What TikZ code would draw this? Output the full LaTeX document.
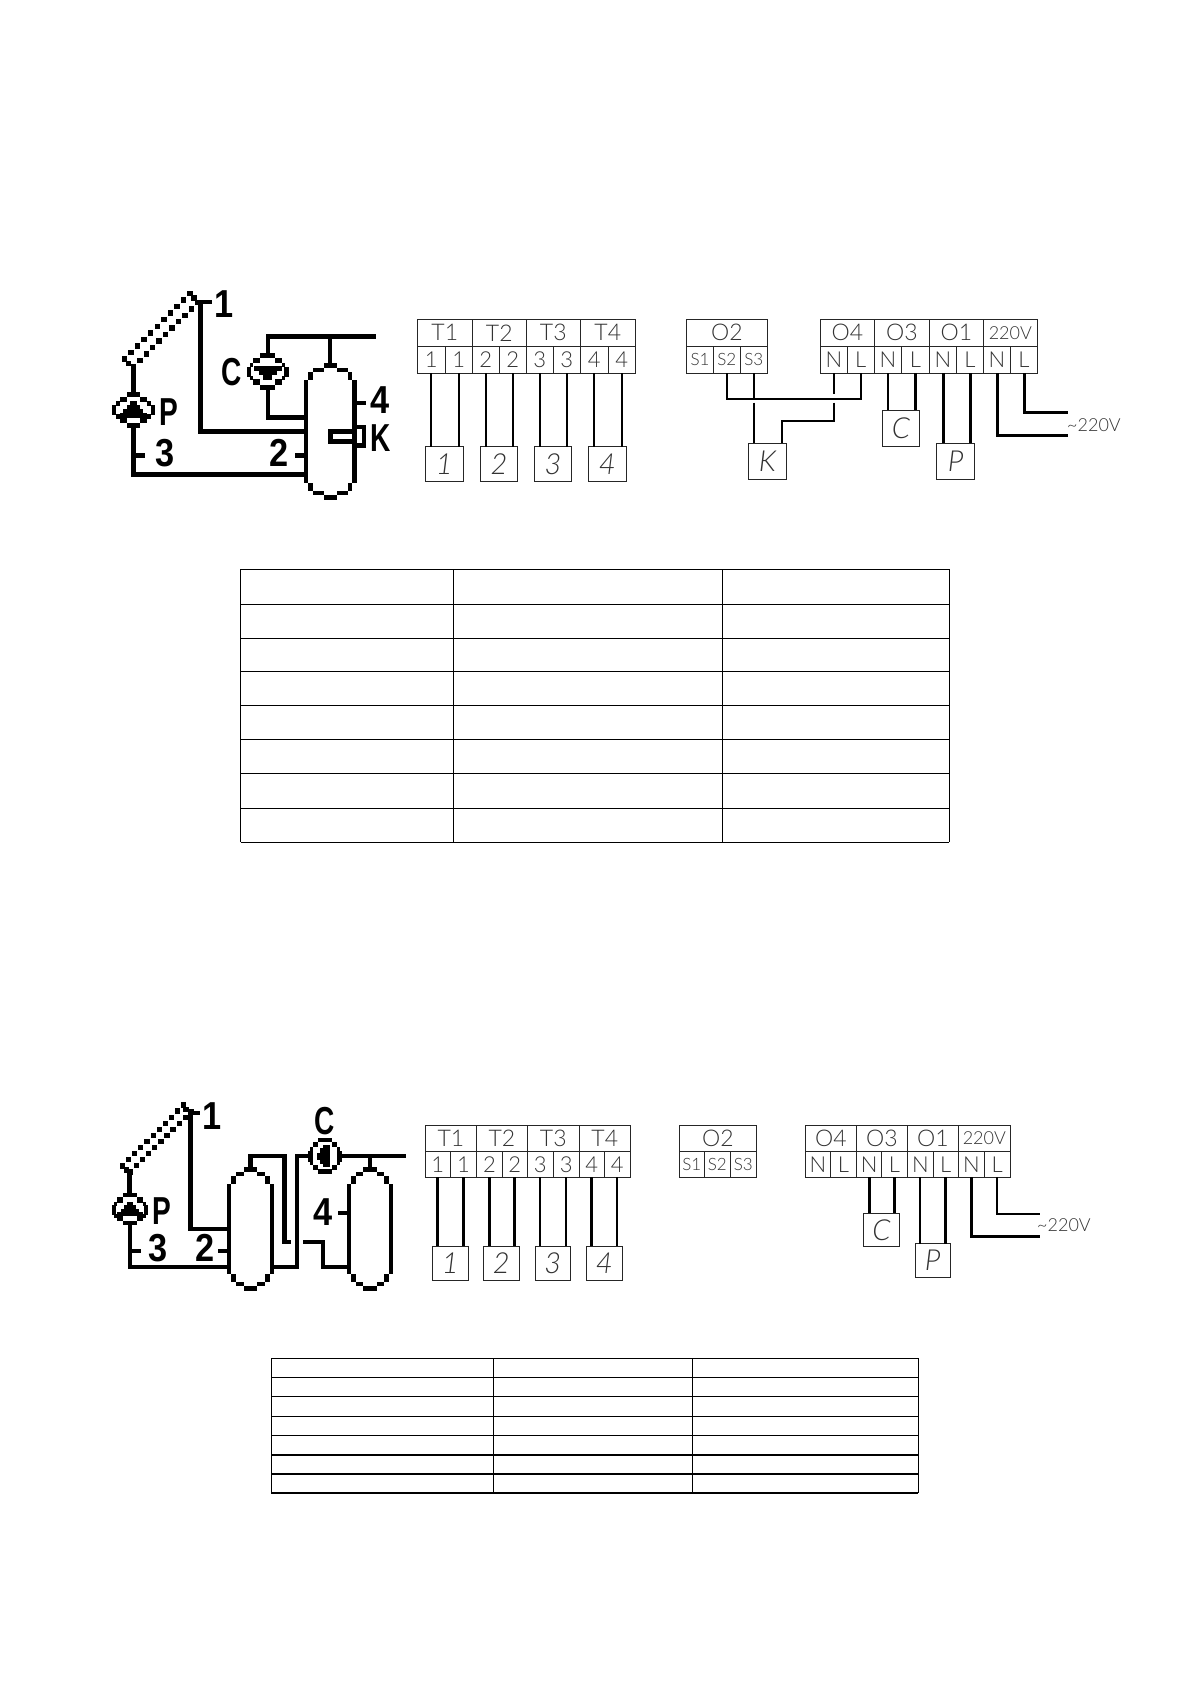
\documentclass[tikz,border=0pt]{standalone}
\usepackage{fontspec}
\setmainfont{Liberation Sans}
\newfontfamily\thinf[ItalicFont={Lato Light Italic}]{Lato Light}
\newfontfamily\pixf[FakeStretch=0.72]{Liberation Sans Bold}
\newfontfamily\pixdf[FakeStretch=0.88]{Liberation Sans Bold}
\tikzset{
  bx/.style={draw=black!85,line width=0.9pt,inner sep=0pt,outer sep=0pt,font=\thinf\fontsize{23}{23}\selectfont,text=black!80},
  lower/.style={font=\thinf\fontsize{22}{22}\selectfont},
  small/.style={font=\thinf\fontsize{17}{17}\selectfont},
  volt/.style={font=\thinf\fontsize{18}{18}\selectfont},
  ital/.style={font=\thinf\itshape\fontsize{29}{29}\selectfont},
  wire/.style={line width=2.2pt,black},
  wirethick/.style={line width=3pt,black},
  tbl/.style={line width=1.3pt,black},
  pix/.style={inner sep=0pt,font=\pixf\fontsize{39}{39}\selectfont},
  pixd/.style={inner sep=0pt,font=\pixdf\fontsize{39}{39}\selectfont}
}
\newcommand\bxn[6][]{%
  \pgfmathsetmacro\bxw{#4-#2}\pgfmathsetmacro\bxh{#5-#3}%
  \node[bx,minimum width=\bxw pt,minimum height=\bxh pt,#1] (#6) at ({(#2+#4)/2},{(#3+#5)/2})}
\newcommand\pr[4]{\fill (#1,#2) rectangle (#3,#4);}
% tank: left x, top y, width, height (crop units)
\newcommand\tankd[4]{%
  \pgfmathsetmacro\tkc{#3/2-20}\pgfmathsetmacro\tkd{#3/2+20}%
  \pgfmathsetmacro\tke{#3-27}\pgfmathsetmacro\tkf{#3-13}%
  \pgfmathsetmacro\tka{#4-50}\pgfmathsetmacro\tkb{#4-26}\pgfmathsetmacro\tkg{#4-14}%
  \begin{scope}[shift={(#1,#2)}]
  \pr{0}{50}{13}{\tka}\pr{\tkf}{50}{#3}{\tka}
  \pr{13}{25}{27}{50}\pr{27}{13}{\tkc}{26}\pr{\tkc}{0}{\tkd}{14}\pr{\tkd}{13}{\tke}{26}\pr{\tke}{25}{\tkf}{50}
  \pr{13}{\tka}{27}{\tkb}\pr{27}{\tkb}{\tkc}{\tkg}\pr{\tkc}{\tkg}{\tkd}{#4}\pr{\tkd}{\tkb}{\tke}{\tkg}\pr{\tke}{\tka}{\tkf}{\tkb}
  \end{scope}}
\begin{document}
\begin{tikzpicture}[x=1pt,y=-1pt]
\useasboundingbox (0,0) rectangle (1190,1684);
\fill[white] (0,0) rectangle (1190,1684);

%% ---------- Pixel schematic 1 ----------
\begin{scope}[shift={(100,270)},x=0.33333pt,y=-0.33333pt]
  \foreach \i in {0,...,10}{
    \fill ({65+19.7*\i},{259-19.7*\i}) rectangle ++(16.5,16.5);
    \fill ({92+19.3*\i},{282-19.3*\i}) rectangle ++(16.5,16.5);
  }
  \pr{78}{272}{94}{288}\pr{274}{75}{292}{92}
  % collector to pump P
  \pr{92}{285}{107}{368}
  % pump P
  \pr{80}{365}{120}{380}\pr{60}{380}{80}{395}\pr{120}{380}{140}{395}
  \pr{47}{393}{60}{408}\pr{140}{393}{152}{408}
  \pr{35}{405}{48}{435}\pr{152}{405}{165}{435}
  \pr{47}{432}{60}{447}\pr{140}{432}{152}{447}
  \pr{60}{445}{80}{460}\pr{120}{445}{140}{460}\pr{80}{460}{120}{475}
  \pr{90}{393}{110}{405}\pr{80}{405}{120}{418}\pr{70}{418}{130}{430}\pr{60}{430}{140}{445}
  % P return
  \pr{92}{475}{107}{620}\pr{92}{605}{615}{620}\pr{107}{550}{135}{563}
  % sensor 1 run
  \pr{295}{100}{309}{492}\pr{295}{90}{335}{103}\pr{295}{478}{615}{492}
  % top line
  \pr{497}{192}{828}{206}\pr{683}{206}{697}{280}\pr{497}{206}{511}{252}
  % pump C
  \pr{480}{250}{525}{263}\pr{460}{263}{480}{280}\pr{525}{263}{545}{280}
  \pr{449}{278}{460}{292}\pr{545}{278}{556}{292}
  \pr{440}{292}{453}{320}\pr{553}{292}{566}{320}
  \pr{449}{318}{460}{330}\pr{545}{318}{556}{330}
  \pr{460}{328}{480}{345}\pr{525}{328}{545}{345}\pr{480}{345}{525}{360}
  \pr{462}{288}{545}{303}\pr{476}{303}{530}{316}\pr{490}{316}{516}{330}
  \pr{497}{360}{511}{449}\pr{497}{435}{615}{449}
  % tank
  \tankd{612}{280}{158}{410}
  \pr{585}{550}{612}{563}
  \pr{765}{392}{797}{405}
  % heater K
  \pr{685}{478}{770}{492}\pr{685}{507}{770}{521}\pr{685}{478}{698}{521}
  \pr{770}{465}{797}{478}\pr{785}{465}{797}{533}\pr{770}{520}{797}{533}
  % labels
  \node[pixd] (aone) at (373,103) {1};
  \node[pix] (ac) at (394,305) {C};
  \node[pix] (ap) at (208,426) {P};
  \node[pixd] (athree) at (195,550) {3};
  \node[pixd] (atwo) at (538,550) {2};
  \node[pixd] (afour) at (840,391) {4};
  \node[pix] (ak) at (841,505) {K};
\end{scope}

%% ---------- Terminals 1 ----------
\bxn{417.3}{319.3}{472.3}{346.3}{ah1}{T1};
\bxn{472.3}{319.3}{526.3}{346.3}{ah2}{T2};
\bxn{526.3}{319.3}{580.3}{346.3}{ah3}{T3};
\bxn{580.3}{319.3}{635.3}{346.3}{ah4}{T4};
\bxn[lower]{417.3}{346.3}{445.3}{373.3}{at1}{1};
\bxn[lower]{445.3}{346.3}{472.3}{373.3}{at2}{1};
\bxn[lower]{472.3}{346.3}{499.3}{373.3}{at3}{2};
\bxn[lower]{499.3}{346.3}{526.3}{373.3}{at4}{2};
\bxn[lower]{526.3}{346.3}{553.3}{373.3}{at5}{3};
\bxn[lower]{553.3}{346.3}{580.3}{373.3}{at6}{3};
\bxn[lower]{580.3}{346.3}{608.3}{373.3}{at7}{4};
\bxn[lower]{608.3}{346.3}{635.3}{373.3}{at8}{4};
\bxn[ital]{425.3}{446.7}{463.3}{481.3}{as1}{1};
\bxn[ital]{480.3}{446.7}{517.7}{481.3}{as2}{2};
\bxn[ital]{534.3}{446.7}{571.7}{481.3}{as3}{3};
\bxn[ital]{588.3}{446.7}{626.3}{481.3}{as4}{4};
\foreach \c/\b in {at1/as1,at2/as1,at3/as2,at4/as2,at5/as3,at6/as3,at7/as4,at8/as4}
  \draw[wire] (\c.south) -- (\c.south |- \b.north);

\bxn{686.7}{319.3}{767.3}{346.3}{ao2}{O2};
\bxn[small]{686.7}{346.3}{713.3}{373.3}{as11}{S1};
\bxn[small]{713.3}{346.3}{740.3}{373.3}{as12}{S2};
\bxn[small]{740.3}{346.3}{767.3}{373.3}{as13}{S3};
\bxn{820.3}{319.3}{874.3}{346.3}{ao4}{O4};
\bxn{874.3}{319.3}{929.3}{346.3}{ao3}{O3};
\bxn{929.3}{319.3}{983.3}{346.3}{ao1}{O1};
\bxn[volt]{983.3}{319.3}{1037.3}{346.3}{apw}{220V};
\bxn[lower]{820.3}{346.3}{847.3}{373.3}{an4}{N};
\bxn[lower]{847.3}{346.3}{874.3}{373.3}{al4}{L};
\bxn[lower]{874.3}{346.3}{901.7}{373.3}{an3}{N};
\bxn[lower]{901.7}{346.3}{929.3}{373.3}{al3}{L};
\bxn[lower]{929.3}{346.3}{956.7}{373.3}{an1}{N};
\bxn[lower]{956.7}{346.3}{983.3}{373.3}{al1}{L};
\bxn[lower]{983.3}{346.3}{1010.7}{373.3}{anp}{N};
\bxn[lower]{1010.7}{346.3}{1037.3}{373.3}{alp}{L};
\bxn[ital]{748.7}{443.3}{786}{479.3}{abk}{K};
\bxn[ital]{882.3}{410.3}{919.7}{446.3}{abc}{C};
\bxn[ital]{936.7}{443.3}{974.7}{479.3}{abp}{P};
\coordinate (abr) at (0,398.7);
\draw[wire] (as12.south) -- (as12.south |- abr) -- (al4.south |- abr) -- (al4.south);
\coordinate (ags) at (0,394);
\coordinate (agt) at (0,402.7);
\draw[wire] (as13.south) -- (as13.south |- abr);
\draw[wire] (as13.south |- agt) -- (as13.south |- abk.north);
\coordinate (akn) at (782,421.3);
\draw[wire] (an4.south) -- (an4.south |- ags);
\draw[wire,line join=miter] (an4.south |- agt) -- (an4.south |- akn) -- (akn) -- (akn |- abk.north);
\draw[wire] (an3.south) -- (an3.south |- abc.north);
\draw[wire] (al3.south) -- (al3.south |- abc.north);
\draw[wirethick] (an1.south) -- (an1.south |- abp.north);
\draw[wirethick] (al1.south) -- (al1.south |- abp.north);
\coordinate (apa) at (1068.3,435.3);
\coordinate (apb) at (1068.3,412.3);
\draw[wirethick] (anp.south) |- (apa);
\draw[wirethick] (alp.south) |- (apb);
\node[volt,inner sep=0pt,text=black!80] (avt) at (1094,425) {\thinf\textasciitilde 220V};

%% ---------- Table 1 ----------
\foreach \yy in {569.3,604.3,638.3,671.3,705.3,739.3,773.3,808.3,842.3}
  \draw[tbl] (240.5,\yy) -- (949.3,\yy);
\foreach \xx in {240.5,453.3,722.3,949.3}
  \draw[tbl] (\xx,569.3) -- (\xx,842.3);

%% ---------- Pixel schematic 2 ----------
\begin{scope}[shift={(100,1090)},x=0.33333pt,y=-0.33333pt]
  \foreach \i in {0,...,10}{
    \fill ({60+18.3*\i},{220-18.3*\i}) rectangle ++(15.5,15.5);
    \fill ({84+18.2*\i},{238-18.2*\i}) rectangle ++(15.5,15.5);
  }
  \pr{72}{232}{88}{248}\pr{250}{50}{266}{66}
  \pr{82}{245}{95}{310}
  % pump P
  \pr{70}{310}{110}{322}\pr{52}{322}{70}{338}\pr{110}{322}{128}{338}
  \pr{42}{336}{52}{347}\pr{128}{336}{138}{347}
  \pr{35}{345}{48}{375}\pr{132}{345}{145}{375}
  \pr{42}{373}{52}{384}\pr{128}{373}{138}{384}
  \pr{52}{378}{70}{392}\pr{110}{378}{128}{392}\pr{70}{392}{110}{405}
  \pr{82}{335}{98}{346}\pr{72}{346}{108}{357}\pr{62}{357}{118}{367}\pr{52}{367}{128}{378}
  % lines
  \pr{83}{405}{96}{538}\pr{83}{525}{385}{538}\pr{96}{478}{122}{490}
  \pr{265}{62}{300}{75}\pr{265}{75}{278}{422}\pr{265}{410}{385}{422}
  \pr{355}{478}{380}{490}
  % tank 1
  \tankd{380}{232}{142}{370}
  \pr{445}{192}{558}{205}\pr{445}{205}{458}{232}
  \pr{547}{192}{560}{462}\pr{547}{450}{573}{462}
  \pr{522}{525}{597}{538}\pr{585}{192}{597}{538}\pr{585}{192}{625}{205}
  % pump C
  \pr{655}{143}{695}{155}\pr{638}{155}{655}{172}\pr{695}{155}{712}{172}
  \pr{630}{170}{640}{184}\pr{710}{170}{720}{184}
  \pr{625}{182}{638}{215}\pr{712}{182}{725}{215}
  \pr{630}{213}{640}{226}\pr{710}{213}{720}{226}
  \pr{638}{224}{655}{240}\pr{695}{224}{712}{240}\pr{655}{238}{695}{252}
  \pr{670}{165}{690}{232}\pr{660}{175}{672}{222}\pr{650}{188}{662}{209}
  \pr{725}{192}{918}{205}\pr{803}{205}{816}{232}
  % tank 2
  \tankd{740}{232}{140}{370}
  \pr{715}{362}{740}{375}
  \pr{610}{450}{675}{462}\pr{662}{450}{675}{538}\pr{662}{525}{745}{538}
  % labels
  \node[pixd] (bone) at (336,78) {1};
  \node[pix] (bc) at (675,92) {C};
  \node[pix] (bp) at (186,364) {P};
  \node[pixd] (bthree) at (173,475) {3};
  \node[pixd] (btwo) at (316,475) {2};
  \node[pixd] (bfour) at (670,366) {4};
\end{scope}

%% ---------- Terminals 2 ----------
\bxn{425.3}{1125.3}{476.7}{1151.3}{bh1}{T1};
\bxn{476.7}{1125.3}{527.3}{1151.3}{bh2}{T2};
\bxn{527.3}{1125.3}{579.3}{1151.3}{bh3}{T3};
\bxn{579.3}{1125.3}{630.3}{1151.3}{bh4}{T4};
\bxn[lower]{425.3}{1151.3}{450.3}{1177.3}{bt1}{1};
\bxn[lower]{450.3}{1151.3}{476.7}{1177.3}{bt2}{1};
\bxn[lower]{476.7}{1151.3}{502.3}{1177.3}{bt3}{2};
\bxn[lower]{502.3}{1151.3}{527.3}{1177.3}{bt4}{2};
\bxn[lower]{527.3}{1151.3}{553.3}{1177.3}{bt5}{3};
\bxn[lower]{553.3}{1151.3}{579.3}{1177.3}{bt6}{3};
\bxn[lower]{579.3}{1151.3}{604.3}{1177.3}{bt7}{4};
\bxn[lower]{604.3}{1151.3}{630.3}{1177.3}{bt8}{4};
\bxn[ital]{432.3}{1246.3}{468.3}{1280.3}{bs1}{1};
\bxn[ital]{483.3}{1246.3}{519.3}{1280.3}{bs2}{2};
\bxn[ital]{535.3}{1246.3}{570.3}{1280.3}{bs3}{3};
\bxn[ital]{586.3}{1246.3}{622.3}{1280.3}{bs4}{4};
\foreach \c/\b/\w in {bt1/bs1/wirethick,bt2/bs1/wire,bt3/bs2/wire,bt4/bs2/wirethick,bt5/bs3/wire,bt6/bs3/wire,bt7/bs4/wirethick,bt8/bs4/wire}
  \draw[\w] (\c.south) -- (\c.south |- \b.north);

\bxn{679.3}{1125.3}{756.3}{1151.3}{bo2}{O2};
\bxn[small]{679.3}{1151.3}{704.3}{1177.3}{bs11}{S1};
\bxn[small]{704.3}{1151.3}{730.3}{1177.3}{bs12}{S2};
\bxn[small]{730.3}{1151.3}{756.3}{1177.3}{bs13}{S3};

\bxn{805.3}{1125.3}{856.7}{1151.3}{bo4}{O4};
\bxn{856.7}{1125.3}{907.3}{1151.3}{bo3}{O3};
\bxn{907.3}{1125.3}{958.3}{1151.3}{bo1}{O1};
\bxn[volt]{958.3}{1125.3}{1010.3}{1151.3}{bpw}{220V};
\bxn[lower]{805.3}{1151.3}{830.3}{1177.3}{bn4}{N};
\bxn[lower]{830.3}{1151.3}{856.7}{1177.3}{bl4}{L};
\bxn[lower]{856.7}{1151.3}{881.7}{1177.3}{bn3}{N};
\bxn[lower]{881.7}{1151.3}{907.3}{1177.3}{bl3}{L};
\bxn[lower]{907.3}{1151.3}{933.3}{1177.3}{bn1}{N};
\bxn[lower]{933.3}{1151.3}{958.3}{1177.3}{bl1}{L};
\bxn[lower]{958.3}{1151.3}{984.3}{1177.3}{bnp}{N};
\bxn[lower]{984.3}{1151.3}{1010.3}{1177.3}{blp}{L};
\bxn[ital]{863.3}{1213.3}{899.7}{1246.7}{bbc}{C};
\bxn[ital]{915.3}{1243.7}{950.3}{1277.3}{bbp}{P};
\draw[wirethick] (bn3.south) -- (bn3.south |- bbc.north);
\draw[wire] (bl3.south) -- (bl3.south |- bbc.north);
\draw[wire] (bn1.south) -- (bn1.south |- bbp.north);
\draw[wirethick] (bl1.south) -- (bl1.south |- bbp.north);
\coordinate (bpa) at (1040,1236.3);
\coordinate (bpb) at (1040,1213.7);
\draw[wirethick] (bnp.south) |- (bpa);
\draw[wire] (blp.south) |- (bpb);
\node[volt,inner sep=0pt,text=black!80] (bvt) at (1064,1225) {\thinf\textasciitilde 220V};

%% ---------- Table 2 ----------
\foreach \yy in {1358.3,1377.3,1396.3,1416.3,1435.3,1455,1474,1493}
  \draw[tbl] (271.3,\yy) -- (918.3,\yy);
\foreach \xx in {271.3,493.3,692.3,918.3}
  \draw[tbl] (\xx,1358.3) -- (\xx,1493);
\end{tikzpicture}
\end{document}
